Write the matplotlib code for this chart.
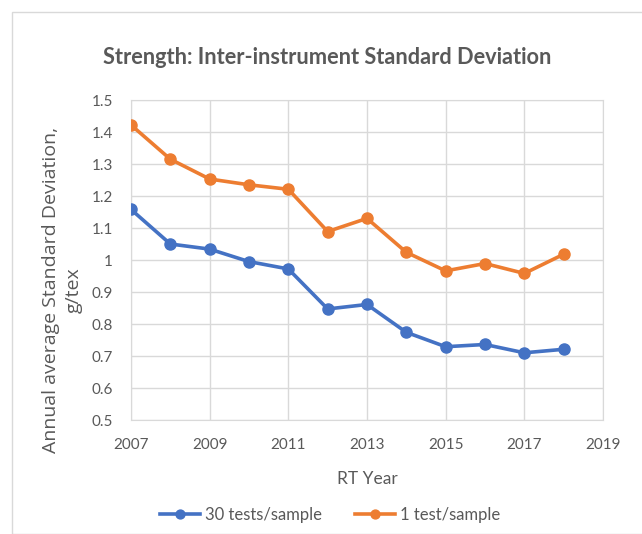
import matplotlib
matplotlib.use("Agg")
import matplotlib.pyplot as plt
from matplotlib.patches import Rectangle

years = [2007, 2008, 2009, 2010, 2011, 2012, 2013, 2014, 2015, 2016, 2017, 2018]
tests30 = [1.158, 1.05, 1.034, 0.995, 0.972, 0.847, 0.861, 0.774, 0.729, 0.736, 0.71, 0.721]
tests1 = [1.422, 1.315, 1.253, 1.235, 1.221, 1.089, 1.130, 1.024, 0.966, 0.989, 0.958, 1.018]
xticks = [2007, 2009, 2011, 2013, 2015, 2017, 2019]
yticks = [0.5, 0.6, 0.7, 0.8, 0.9, 1.0, 1.1, 1.2, 1.3, 1.4, 1.5]
ytick_labels = ["0.5", "0.6", "0.7", "0.8", "0.9", "1", "1.1", "1.2", "1.3", "1.4", "1.5"]

plt.rcParams['font.family'] = ['Lato', 'DejaVu Sans']
grey = "#595959"
W, H = 642, 534

fig = plt.figure(figsize=(W / 100, H / 100), dpi=100)
# chart frame
fig.patches.append(Rectangle((12 / W, 0), 1.0, 1 - 12 / H, transform=fig.transFigure,
                             fill=False, edgecolor="#d9d9d9", linewidth=1))

ax = fig.add_axes([131 / W, 114 / H, 472 / W, 320 / H])
ax.plot(years, tests30, color="#4472C4", lw=2.6, marker="o", ms=8, label="30 tests/sample", zorder=3)
ax.plot(years, tests1, color="#ED7D31", lw=2.6, marker="o", ms=8, label="1 test/sample", zorder=3)

ax.set_xlim(2007, 2019)
ax.set_ylim(0.5, 1.5)
ax.set_xticks(xticks)
ax.set_yticks(yticks)
ax.set_yticklabels(ytick_labels)
ax.grid(True, color="#d9d9d9", lw=1)
ax.set_axisbelow(True)
for s in ax.spines.values():
    s.set_color("#d9d9d9")
ax.tick_params(length=0, labelsize=11, colors=grey, pad=13)

ax.set_xlabel("RT Year", fontsize=12.5, color=grey, labelpad=14)
fig.text(62 / W, 1 - 290 / H, "Annual average Standard Deviation,\ng/tex", rotation=90,
         ha="center", va="center", multialignment="center", fontsize=14, color=grey,
         family=['Open Sans', 'DejaVu Sans'], linespacing=1.35)
fig.text(327 / W, 1 - 58 / H, "Strength: Inter-instrument Standard Deviation",
         ha="center", va="center", fontsize=15.7, fontweight="bold", color=grey)

ax.legend(loc="center", bbox_to_anchor=((330 - 131) / 472, (420 - 515) / 320), ncol=2,
          frameon=False, fontsize=12, labelcolor=grey, handlelength=2.4, handletextpad=0.3,
          columnspacing=2.0, markerscale=0.8)

fig.savefig("out.png", dpi=100)
